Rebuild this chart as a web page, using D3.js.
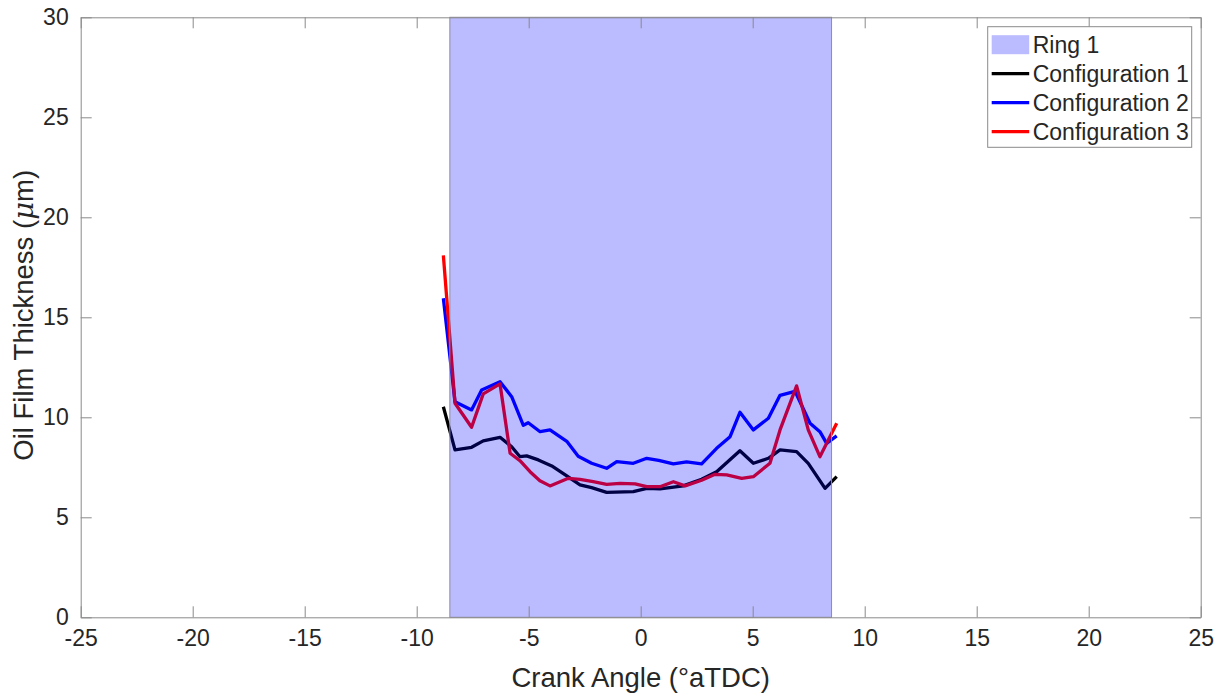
<!DOCTYPE html>
<html>
<head>
<meta charset="utf-8">
<script src="https://cdn.jsdelivr.net/npm/d3@7"></script>
<style>
	body { margin: 0; background: #fff; }
	svg text { font-family: "Liberation Sans", Arial, sans-serif; fill: #262626; }
</style>
</head>
<body>
<div id="container"></div>
<script>
// ring 1 extent (crank angle)
var ringExtent = [-8.52, 8.52];

// configuration 1 (black)
var config1X = [-8.81, -8.29, -7.55, -7.03, -6.28, -5.76, -5.39, -5.09, -4.57, -3.97, -3.3, -2.71, -2.19, -1.52, -0.33, 0.27, 0.86, 1.9, 2.72, 3.39, 4.43, 5.03, 5.7, 6.22, 6.96, 7.48, 8.23, 8.75];
var config1Y = [10.53, 8.37, 8.5, 8.82, 9.0, 8.53, 8.03, 8.07, 7.87, 7.57, 7.07, 6.62, 6.48, 6.25, 6.28, 6.45, 6.42, 6.57, 6.9, 7.28, 8.33, 7.7, 7.95, 8.37, 8.28, 7.7, 6.45, 7.03];

// configuration 2 (blue)
var config2X = [-8.81, -8.29, -7.55, -7.1, -6.28, -5.76, -5.24, -5.02, -4.49, -4.05, -3.3, -2.79, -2.19, -1.52, -1.07, -0.33, 0.27, 0.8, 1.46, 2.05, 2.72, 3.39, 3.99, 4.43, 5.03, 5.7, 6.22, 6.89, 7.56, 8.0, 8.3, 8.75];
var config2Y = [15.95, 10.78, 10.37, 11.37, 11.78, 11.03, 9.6, 9.73, 9.28, 9.37, 8.8, 8.05, 7.7, 7.45, 7.78, 7.7, 7.95, 7.85, 7.67, 7.77, 7.67, 8.45, 9.03, 10.25, 9.37, 9.95, 11.1, 11.3, 9.7, 9.28, 8.7, 9.07];

// configuration 3 (red)
var config3X = [-8.81, -8.29, -7.55, -7.03, -6.28, -5.83, -5.39, -4.94, -4.5, -4.05, -3.23, -2.71, -2.12, -1.52, -0.92, -0.25, 0.27, 0.86, 1.46, 1.98, 2.72, 3.32, 3.84, 4.51, 5.03, 5.77, 6.22, 6.96, 7.48, 8.0, 8.75];
var config3Y = [18.1, 10.7, 9.5, 11.17, 11.67, 8.2, 7.83, 7.28, 6.83, 6.57, 6.95, 6.9, 6.78, 6.65, 6.7, 6.67, 6.53, 6.53, 6.78, 6.57, 6.85, 7.15, 7.12, 6.95, 7.03, 7.7, 9.37, 11.57, 9.37, 8.03, 9.7];

var xTicks = [-25, -20, -15, -10, -5, 0, 5, 10, 15, 20, 25];
var yTicks = [0, 5, 10, 15, 20, 25, 30];

var legendNames = ['Ring 1', 'Configuration 1', 'Configuration 2', 'Configuration 3'];

var width = 1228, height = 697;
var margin = {top: 17.3, right: 27.3, bottom: 79.7, left: 80.7};
var innerW = width - margin.left - margin.right,
	innerH = height - margin.top - margin.bottom;

var axisColor = '#8a8a8a';
var tickLen = 11;

var svg = d3.select('#container').append('svg')
	.attr('width', width)
	.attr('height', height);

var x = d3.scaleLinear().domain([-25, 25]).range([0, innerW]);
var y = d3.scaleLinear().domain([0, 30]).range([innerH, 0]);

var g = svg.append('g')
	.attr('transform', 'translate(' + margin.left + ',' + margin.top + ')');

var series = [
	{xs: config1X, ys: config1Y, color: '#000000'},
	{xs: config2X, ys: config2Y, color: '#0000ff'},
	{xs: config3X, ys: config3Y, color: '#ff0000'}
];

var line = d3.line()
	.x(d => x(d[0]))
	.y(d => y(d[1]));

series.forEach(s => {
	g.append('path')
		.attr('d', line(d3.zip(s.xs, s.ys)))
		.attr('fill', 'none')
		.attr('stroke', s.color)
		.attr('stroke-width', 3.3)
		.attr('stroke-linejoin', 'round');
});

// ring patch sits on top of the lines, semi transparent
g.append('rect')
	.attr('x', x(ringExtent[0]))
	.attr('y', y(30))
	.attr('width', x(ringExtent[1]) - x(ringExtent[0]))
	.attr('height', y(0) - y(30))
	.attr('fill', '#0000ff')
	.attr('fill-opacity', 0.265)
	.attr('stroke', '#8c8c9c')
	.attr('stroke-width', 1);

// box + ticks (plain hyphen minus like the original)
var fmt = d => String(d);
var xAxisB = d3.axisBottom(x).tickValues(xTicks).tickSizeInner(-tickLen).tickSizeOuter(0).tickPadding(12).tickFormat(fmt);
var xAxisT = d3.axisTop(x).tickValues(xTicks).tickSizeInner(-tickLen).tickSizeOuter(0).tickFormat('');
var yAxisL = d3.axisLeft(y).tickValues(yTicks).tickSizeInner(-tickLen).tickSizeOuter(0).tickPadding(12).tickFormat(fmt);
var yAxisR = d3.axisRight(y).tickValues(yTicks).tickSizeInner(-tickLen).tickSizeOuter(0).tickFormat('');

function styleAxis(sel){
	sel.select('.domain').attr('stroke', axisColor);
	sel.selectAll('.tick line').attr('stroke', axisColor);
	sel.selectAll('.tick text')
		.style('font-size', '23px')
		.attr('fill', '#262626');
}

g.append('g').attr('transform', 'translate(0,' + innerH + ')').call(xAxisB).call(styleAxis);
g.append('g').call(xAxisT).call(styleAxis);
g.append('g').call(yAxisL).call(styleAxis);
g.append('g').attr('transform', 'translate(' + innerW + ',0)').call(yAxisR).call(styleAxis);

// axis labels
svg.append('text')
	.attr('x', margin.left + innerW / 2)
	.attr('y', 687)
	.attr('text-anchor', 'middle')
	.style('font-size', '27.5px')
	.text('Crank Angle (°aTDC)');

var ylab = svg.append('text')
	.attr('transform', 'translate(33,' + (margin.top + innerH / 2 - 2) + ') rotate(-90)')
	.attr('text-anchor', 'middle')
	.style('font-size', '27.5px');
ylab.append('tspan').text('Oil Film Thickness (');
ylab.append('tspan').style('font-family', '"DejaVu Serif", serif').style('font-style', 'italic').text('μ');
ylab.append('tspan').text('m)');

// legend
var leg = svg.append('g').attr('transform', 'translate(987.7,26.7)');
leg.append('rect')
	.attr('width', 204)
	.attr('height', 120.6)
	.attr('fill', '#fff')
	.attr('stroke', axisColor)
	.attr('stroke-width', 1);

var legRowY = d3.scalePoint().domain(legendNames).range([18, 105]);

leg.append('rect')
	.attr('x', 4)
	.attr('y', legRowY('Ring 1') - 9.5)
	.attr('width', 37.5)
	.attr('height', 19)
	.attr('fill', '#bbbbff');

series.forEach((s, i) => {
	leg.append('line')
		.attr('x1', 4).attr('x2', 41.5)
		.attr('y1', legRowY(legendNames[i + 1]))
		.attr('y2', legRowY(legendNames[i + 1]))
		.attr('stroke', s.color)
		.attr('stroke-width', 3.3);
});

leg.selectAll('text.leg')
	.data(legendNames)
	.enter()
	.append('text')
	.attr('class', 'leg')
	.attr('x', 45)
	.attr('y', d => legRowY(d))
	.attr('dy', '0.35em')
	.style('font-size', '23px')
	.text(d => d);
</script>
</body>
</html>
